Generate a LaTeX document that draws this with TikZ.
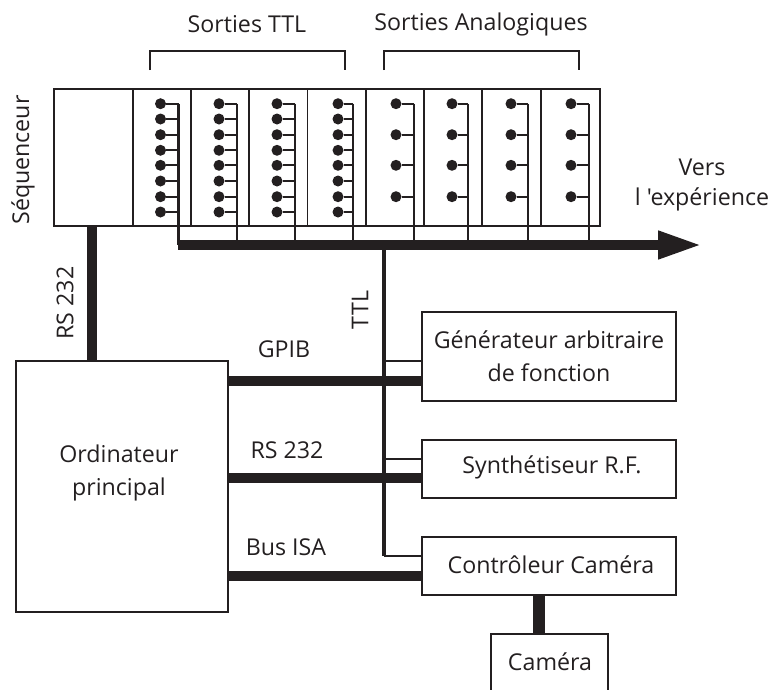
\documentclass[tikz,border=0pt]{standalone}
\usepackage{fontspec}
\newfontfamily\labfont{Open Sans}
\usetikzlibrary{arrows.meta}
\definecolor{ink}{HTML}{231F20}
\tikzset{
  lab/.style={inner sep=0pt,text=ink,font=\labfont\fontsize{23.2}{33}\selectfont,align=center},
  box/.style={draw=ink,line width=1.9pt,fill=none,anchor=north west,inner sep=0pt,outer sep=0pt},
  dot/.style={circle,fill=ink,inner sep=0pt,minimum size=11pt},
  thin/.style={draw=ink,line width=1.9pt},
  stem/.style={draw=ink,line width=2.3pt},
  bracket/.style={draw=ink,line width=1.3pt},
  thick bus/.style={draw=ink,line width=10pt},
  ttl bus/.style={draw=ink,line width=4.5pt}
}
\newcommand{\bx}[6]{\node[box,minimum width=#4pt,minimum height=#5pt,#6] (#1) at (#2,#3) {};}
\begin{document}
\begin{tikzpicture}[x=1pt,y=-1pt]
\useasboundingbox (0,0) rectangle (774,689);
% sequencer modules
\bx{seq}{54}{89}{79}{137}{}
\foreach \n/\a/\b in {1/133/58,2/191/58,3/249/58.5,4/307.5/58.5,5/366/58,6/424/58,7/482/59,8/541/59}{
  \bx{m\n}{\a}{89}{\b}{137}{}
}
% bus
\coordinate (busL) at (177.5,245);
\coordinate (busR) at (702,245);
\coordinate (busT) at (384,245);
\path[thick bus,-{Triangle[length=44pt,width=26pt]}] (busL) -- (busR);
% TTL modules
\foreach \m/\dx/\sx in {1/160.5/178.5,2/219/237,3/277/295,4/338/353}{
  \coordinate (s\m) at (\sx,103.7);
  \path[stem] (s\m) -- (s\m |- busL);
  \foreach \i/\y in {1/103.7,2/119,3/134.7,4/150.3,5/165.3,6/181,7/196.7,8/212}{
    \node[dot] (d\m-\i) at (\dx,\y) {};
    \path[stem] (d\m-\i) -- (d\m-\i -| s\m);
  }
}
% analog modules
\foreach \m/\dx/\sx in {5/396/414,6/452/468,7/511/528,8/571/589}{
  \coordinate (s\m) at (\sx,103.7);
  \path[stem] (s\m) -- (s\m |- busL);
  \foreach \i/\y in {1/103.7,2/134.7,3/165.3,4/196.7}{
    \node[dot] (d\m-\i) at (\dx,\y) {};
    \path[stem] (d\m-\i) -- (d\m-\i -| s\m);
  }
}
% brackets
\coordinate (b1a) at (150,70); \coordinate (b1b) at (345,70);
\coordinate (b2a) at (384,70); \coordinate (b2b) at (579,70);
\path[bracket] (b1a) -- (150,51) -- (345,51) -- (b1b);
\path[bracket] (b2a) -- (384,51) -- (579,51) -- (b2b);
% lower boxes
\bx{pc}{16}{361}{212}{251}{}
\bx{gen}{422}{312}{254}{89}{}
\bx{syn}{422}{440}{254}{58}{}
\bx{ctl}{422}{537}{254}{58}{}
\bx{cam}{491}{634}{117}{90}{}
% connectors
\coordinate (seqdrop) at (92,226);
\path[thick bus] (seqdrop) -- (seqdrop |- pc.north);
\path[ttl bus] (busT) -- (384,480);
\path[ttl bus] (384,480) -- (384,556);
\path[thin] (384,556) -- (ctl.west |- 0,556);
\path[thin] (384,361) -- (gen.west |- 0,361);
\path[thin] (384,459) -- (syn.west |- 0,459);
\path[thick bus] (pc.east |- 0,380.7) -- (gen.west |- 0,380.7);
\path[thick bus] (pc.east |- 0,478) -- (syn.west |- 0,478);
\path[thick bus] (pc.east |- 0,576) -- (ctl.west |- 0,576);
\path[draw=ink,line width=12pt] (ctl.south -| 539,0) -- (cam.north -| 539,0);
% labels
\node[lab] (lttl) at (247,24) {Sorties TTL};
\node[lab] (lana) at (481,24) {Sorties Analogiques};
\node[lab,rotate=90] (lseq) at (23,160) {Séquenceur};
\node[lab,rotate=90] (lrs) at (65,303) {RS 232};
\node[lab,rotate=90] (lt) at (360,310) {TTL};
\node[lab] (lvers) at (702,167) {Vers};
\node[lab] (lexp) at (702,199) {l 'expérience};
\node[lab] (lgp) at (284,349) {GPIB};
\node[lab] (lr2) at (287,450) {RS 232};
\node[lab] (lisa) at (286,547) {Bus ISA};
\node[lab] (lpc) at (119,473) {Ordinateur\\principal};
\node[lab] (lgen) at (549,356) {Générateur arbitraire\\de fonction};
\node[lab] (lsyn) at (552,467) {Synthétiseur R.F.};
\node[lab] (lctl) at (551,565) {Contrôleur Caméra};
\node[lab] (lcam) at (550,662) {Caméra};
\end{tikzpicture}
\end{document}
